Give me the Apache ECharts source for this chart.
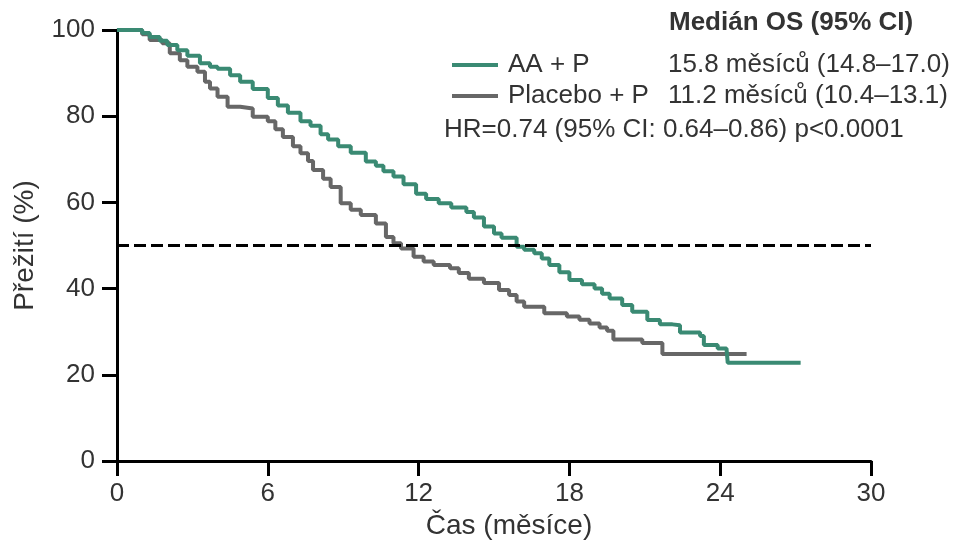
<!DOCTYPE html>
<html>
<head>
<meta charset="UTF-8">
<title></title>
<script src="https://cdn.jsdelivr.net/npm/echarts@6/dist/echarts.min.js"></script>
<style>
  * { margin: 0; padding: 0; }
  #app { width: 957px; height: 541px; }
</style>
</head>
<body>
<div id="app"></div>
<script>
var seriesNames = ['Placebo + P', 'AA + P'];
var medians = {
  'AA + P': '15.8 měsíců (14.8–17.0)',
  'Placebo + P': '11.2 měsíců (10.4–13.1)'
};
var xTicks = [0, 6, 12, 18, 24, 30];
var yTicks = [0, 20, 40, 60, 80, 100];
var medianLevel = 50;

// [month, survival %]
var aaP = [
  [0, 100], [0.85, 100], [1.0, 99.3], [1.3, 98.4], [1.7, 97.5], [2.0, 96.5], [2.4, 95.3],
  [2.8, 94], [3.3, 92.3], [3.7, 91.5], [4.0, 91.0], [4.5, 89.5], [4.9, 88], [5.4, 86.3],
  [6.0, 84.2], [6.4, 82.5], [6.8, 80.8], [7.3, 78.8], [7.7, 77.8], [8.1, 75.8], [8.4, 74.6],
  [8.8, 73], [9.3, 71.5], [9.9, 69.5], [10.3, 68.5], [10.6, 67.2], [11.0, 66], [11.4, 64.2],
  [11.9, 62], [12.3, 60.8], [12.8, 59.8], [13.3, 58.8], [13.9, 57.8], [14.2, 56.5], [14.6, 54.4],
  [15.0, 52.8], [15.3, 51.8], [15.9, 49.7], [16.2, 49], [16.6, 48.2], [16.9, 47], [17.2, 45.5],
  [17.6, 43.8], [18.0, 42], [18.5, 41], [19.0, 40], [19.3, 38.8], [19.6, 37.7], [20.1, 36.2],
  [20.5, 34.6], [21.1, 32.7], [21.6, 31.7], [22.1, 31.5], [22.4, 29.8], [23.2, 29], [23.35, 26.9],
  [23.9, 26.1], [24.25, 25.7], [24.3, 22.8], [27.2, 22.8]
];
var placeboP = [
  [0, 100], [0.85, 100], [1.0, 99], [1.3, 97.7], [1.8, 96.9], [2.1, 94.6], [2.5, 93],
  [2.8, 91.5], [3.2, 90.3], [3.5, 88], [3.7, 86.4], [4.0, 84.5], [4.4, 82.2], [4.9, 81.8],
  [5.4, 79.9], [6.0, 78.8], [6.3, 77], [6.6, 75.2], [7.0, 73], [7.3, 71.4], [7.6, 69.6],
  [7.8, 67.5], [8.2, 65.5], [8.5, 63.6], [8.9, 59.8], [9.3, 58.3], [9.7, 57.1], [10.3, 55.1],
  [10.7, 52], [11.0, 50.5], [11.3, 49.3], [11.8, 47.4], [12.2, 46.3], [12.6, 45.5], [13.25, 44.7],
  [13.6, 43.6], [14.0, 42.3], [14.6, 41.3], [15.2, 39.7], [15.6, 38.5], [15.9, 37], [16.2, 35.8],
  [17.0, 34.3], [17.9, 33.5], [18.4, 32.8], [18.8, 31.9], [19.2, 31], [19.5, 30.2], [19.75, 28.2],
  [20.9, 27.4], [21.7, 24.8], [25.05, 24.8]
];

var FONT = '"Liberation Sans", Arial, sans-serif';
var TEXT = '#333';
var GREEN = '#3a8a73';
var GRAY = '#676767';

var myChart = echarts.init(document.getElementById('app'));

var axisCommon = {
  axisLine: { onZero: false, lineStyle: { color: '#000', width: 3 } },
  axisTick: { length: 15, lineStyle: { color: '#000', width: 3 } },
  splitLine: { show: false }
};

var option = {
  animation: false,
  grid: { left: 117, right: 86, top: 30, bottom: 80, containLabel: false, outerBoundsMode: 'none' },
  xAxis: Object.assign({}, axisCommon, {
    type: 'value',
    min: xTicks[0],
    max: xTicks[xTicks.length - 1],
    interval: 6,
    name: 'Čas (měsíce)',
    nameLocation: 'middle',
    nameGap: 43,
    nameTextStyle: { fontFamily: FONT, fontSize: 28, color: TEXT, padding: [0, 0, 0, 30] },
    axisLabel: { fontFamily: FONT, fontSize: 26, color: TEXT, margin: 20 }
  }),
  yAxis: Object.assign({}, axisCommon, {
    type: 'value',
    min: yTicks[0],
    max: yTicks[yTicks.length - 1],
    interval: 20,
    name: 'Přežití (%)',
    nameLocation: 'middle',
    nameGap: 78,
    nameTextStyle: { fontFamily: FONT, fontSize: 28, color: TEXT },
    axisLabel: { fontFamily: FONT, fontSize: 26, color: TEXT, margin: 22 }
  }),
  legend: {
    data: ['AA + P', 'Placebo + P'],
    orient: 'vertical',
    left: 447,
    top: 47,
    icon: 'rect',
    itemWidth: 46,
    itemHeight: 4,
    itemGap: 5,
    selectedMode: false,
    formatter: function (name) {
      return '{a|' + name + '}{b|' + medians[name] + '}';
    },
    textStyle: {
      rich: {
        a: { fontFamily: FONT, fontSize: 26, color: TEXT, width: 160, lineHeight: 30, padding: [0, 0, 0, 5] },
        b: { fontFamily: FONT, fontSize: 26, color: TEXT, lineHeight: 30 }
      }
    }
  },
  graphic: [
    {
      type: 'text', left: 669, top: 10,
      style: { text: 'Medián OS (95% CI)', fontFamily: FONT, fontSize: 26, fontWeight: 'bold', fill: TEXT }
    },
    {
      type: 'text', left: 444, top: 117,
      style: { text: 'HR=0.74 (95% CI: 0.64–0.86) p<0.0001', fontFamily: FONT, fontSize: 26, fill: TEXT }
    }
  ],
  series: [
    {
      name: seriesNames[0],
      type: 'line',
      step: 'end',
      symbol: 'none',
      color: GRAY,
      lineStyle: { color: GRAY, width: 4 },
      data: placeboP,
      z: 2,
      markLine: {
        silent: true,
        symbol: ['none', 'none'],
        label: { show: false },
        lineStyle: { color: '#000', width: 3, type: [12, 5] },
        data: [{ yAxis: medianLevel }]
      }
    },
    {
      name: seriesNames[1],
      type: 'line',
      step: 'end',
      symbol: 'none',
      color: GREEN,
      lineStyle: { color: GREEN, width: 4 },
      data: aaP,
      z: 3
    }
  ]
};

myChart.setOption(option);
</script>
</body>
</html>
